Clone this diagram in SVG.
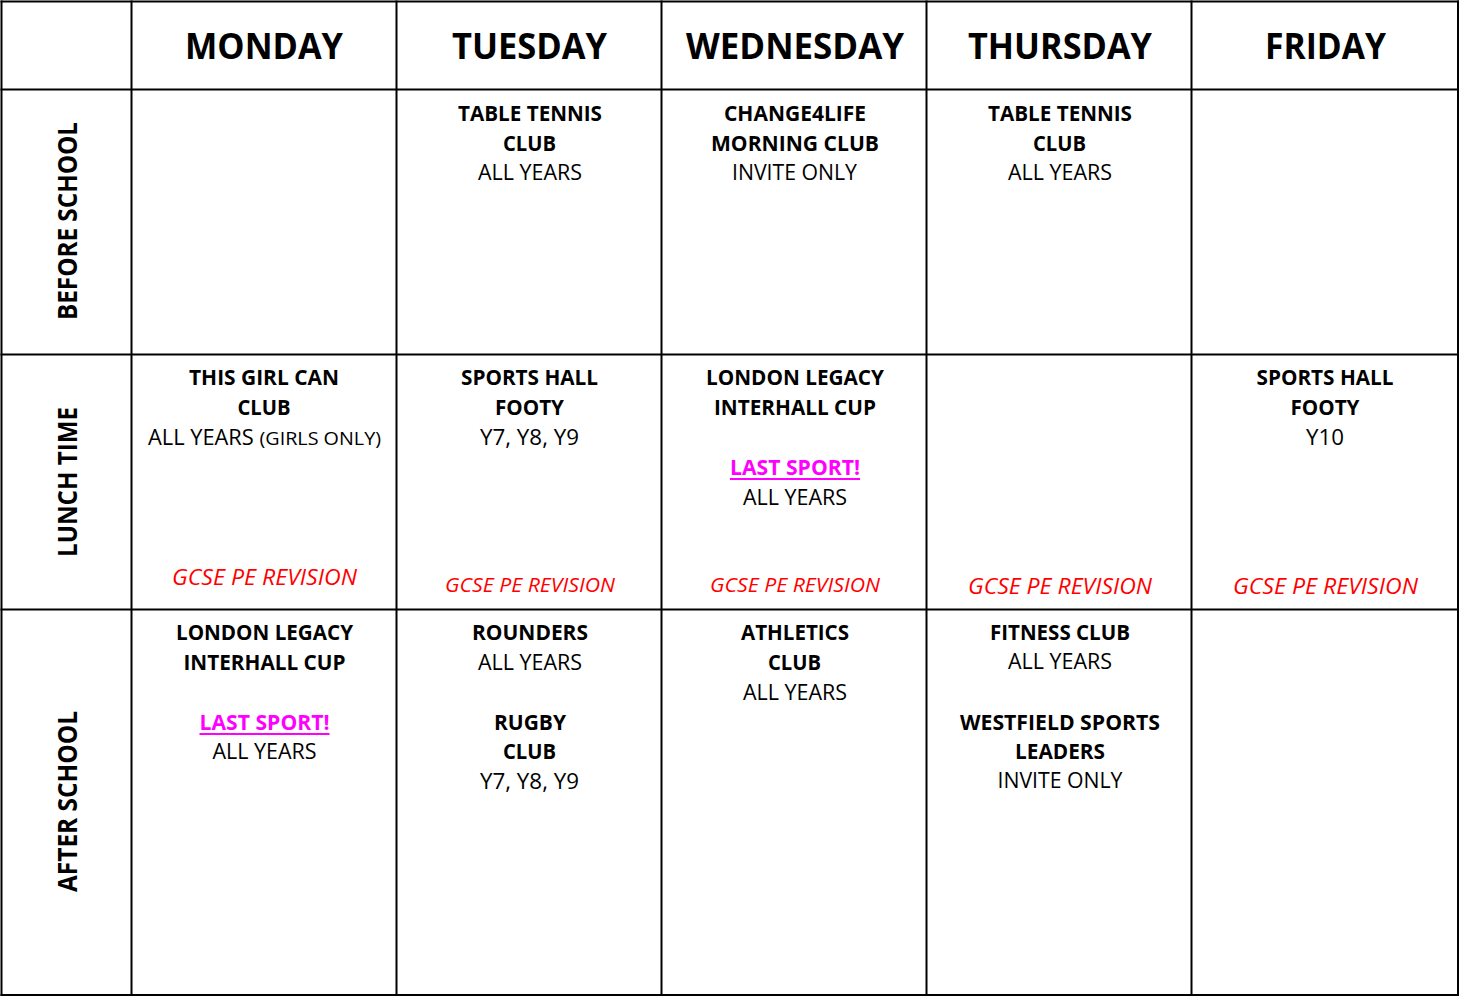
<svg xmlns="http://www.w3.org/2000/svg" width="1461" height="998" viewBox="0 0 1461 998">
<style>
text{font-family:"Open Sans","Liberation Sans",sans-serif;text-anchor:middle;fill:#000}
.h{font-size:36px;font-weight:700}
.b{font-size:21px;font-weight:700}
.r{font-size:21px;font-weight:400}
.row{font-size:26px;font-weight:700}
.g{font-size:21px;font-style:italic;fill:#FF0000}
.g2{font-size:19.5px;font-style:italic;fill:#FF0000}
.m{font-size:21px;font-weight:700;fill:#FF00FF}
.ul{stroke:#FF00FF;stroke-width:2}
.grid line{stroke:#000;stroke-width:2}
</style>
<rect width="1461" height="998" fill="#fff"/>
<g id="grid" class="grid">
<line x1="1.5" y1="0.5" x2="1.5" y2="996"/>
<line x1="131.5" y1="0.5" x2="131.5" y2="996"/>
<line x1="396.5" y1="0.5" x2="396.5" y2="996"/>
<line x1="661.5" y1="0.5" x2="661.5" y2="996"/>
<line x1="926.5" y1="0.5" x2="926.5" y2="996"/>
<line x1="1191.5" y1="0.5" x2="1191.5" y2="996"/>
<line x1="1458" y1="0.5" x2="1458" y2="996"/>
<line x1="0.5" y1="1.5" x2="1459" y2="1.5"/>
<line x1="0.5" y1="89.5" x2="1459" y2="89.5"/>
<line x1="0.5" y1="354.5" x2="1459" y2="354.5"/>
<line x1="0.5" y1="609.5" x2="1459" y2="609.5"/>
<line x1="0.5" y1="995" x2="1459" y2="995"/>
</g>
<g id="headers">
<text class="h" x="264" y="59" textLength="158" lengthAdjust="spacingAndGlyphs">MONDAY</text>
<text class="h" x="529.5" y="59" textLength="155" lengthAdjust="spacingAndGlyphs">TUESDAY</text>
<text class="h" x="795" y="59" textLength="218" lengthAdjust="spacingAndGlyphs">WEDNESDAY</text>
<text class="h" x="1060" y="59" textLength="184" lengthAdjust="spacingAndGlyphs">THURSDAY</text>
<text class="h" x="1325.5" y="59" textLength="121" lengthAdjust="spacingAndGlyphs">FRIDAY</text>
</g>
<g id="row-labels">
<text class="row" transform="translate(77,221) rotate(-90)" textLength="198" lengthAdjust="spacingAndGlyphs">BEFORE SCHOOL</text>
<text class="row" transform="translate(77,482) rotate(-90)" textLength="150" lengthAdjust="spacingAndGlyphs">LUNCH TIME</text>
<text class="row" transform="translate(77,801.5) rotate(-90)" textLength="181" lengthAdjust="spacingAndGlyphs">AFTER SCHOOL</text>
</g>
<g id="tue-before">
<text class="b" x="530" y="121" textLength="144" lengthAdjust="spacingAndGlyphs">TABLE TENNIS</text>
<text class="b" x="529.5" y="150.5" textLength="53" lengthAdjust="spacingAndGlyphs">CLUB</text>
<text class="r" x="530" y="180" textLength="104" lengthAdjust="spacingAndGlyphs">ALL YEARS</text>
</g>
<g id="wed-before">
<text class="b" x="795" y="121" textLength="142" lengthAdjust="spacingAndGlyphs">CHANGE4LIFE</text>
<text class="b" x="795" y="150.5" textLength="168" lengthAdjust="spacingAndGlyphs">MORNING CLUB</text>
<text class="r" x="794.5" y="180" textLength="125" lengthAdjust="spacingAndGlyphs">INVITE ONLY</text>
</g>
<g id="thu-before">
<text class="b" x="1060" y="121" textLength="144" lengthAdjust="spacingAndGlyphs">TABLE TENNIS</text>
<text class="b" x="1059.5" y="150.5" textLength="53" lengthAdjust="spacingAndGlyphs">CLUB</text>
<text class="r" x="1060" y="180" textLength="104" lengthAdjust="spacingAndGlyphs">ALL YEARS</text>
</g>
<g id="mon-lunch">
<text class="b" x="264" y="385" textLength="150" lengthAdjust="spacingAndGlyphs">THIS GIRL CAN</text>
<text class="b" x="264" y="415" textLength="53" lengthAdjust="spacingAndGlyphs">CLUB</text>
<text class="r" x="264.5" y="445" textLength="233" lengthAdjust="spacingAndGlyphs">ALL YEARS <tspan font-size="19">(GIRLS ONLY)</tspan></text>
<text class="g" x="264.5" y="585" textLength="185" lengthAdjust="spacingAndGlyphs">GCSE PE REVISION</text>
</g>
<g id="tue-lunch">
<text class="b" x="529.5" y="385" textLength="137" lengthAdjust="spacingAndGlyphs">SPORTS HALL</text>
<text class="b" x="529.5" y="415" textLength="69" lengthAdjust="spacingAndGlyphs">FOOTY</text>
<text class="r" x="529.5" y="445" textLength="99" lengthAdjust="spacingAndGlyphs">Y7, Y8, Y9</text>
<text class="g2" x="530" y="592" textLength="170" lengthAdjust="spacingAndGlyphs">GCSE PE REVISION</text>
</g>
<g id="wed-lunch">
<text class="b" x="795" y="385" textLength="178" lengthAdjust="spacingAndGlyphs">LONDON LEGACY</text>
<text class="b" x="795" y="415" textLength="162" lengthAdjust="spacingAndGlyphs">INTERHALL CUP</text>
<text class="m" x="795" y="475" textLength="130" lengthAdjust="spacingAndGlyphs">LAST SPORT!</text>
<line class="ul" x1="730" y1="479" x2="860" y2="479"/>
<text class="r" x="795" y="505" textLength="104" lengthAdjust="spacingAndGlyphs">ALL YEARS</text>
<text class="g2" x="795" y="592" textLength="170" lengthAdjust="spacingAndGlyphs">GCSE PE REVISION</text>
</g>
<g id="thu-lunch">
<text class="g" x="1060" y="594" textLength="184" lengthAdjust="spacingAndGlyphs">GCSE PE REVISION</text>
</g>
<g id="fri-lunch">
<text class="b" x="1325" y="385" textLength="137" lengthAdjust="spacingAndGlyphs">SPORTS HALL</text>
<text class="b" x="1325" y="415" textLength="69" lengthAdjust="spacingAndGlyphs">FOOTY</text>
<text class="r" x="1325" y="445" textLength="38" lengthAdjust="spacingAndGlyphs">Y10</text>
<text class="g" x="1325.5" y="594" textLength="185" lengthAdjust="spacingAndGlyphs">GCSE PE REVISION</text>
</g>
<g id="mon-after">
<text class="b" x="264.5" y="640" textLength="177" lengthAdjust="spacingAndGlyphs">LONDON LEGACY</text>
<text class="b" x="264.5" y="670" textLength="162" lengthAdjust="spacingAndGlyphs">INTERHALL CUP</text>
<text class="m" x="264.5" y="730" textLength="130" lengthAdjust="spacingAndGlyphs">LAST SPORT!</text>
<line class="ul" x1="199.5" y1="734" x2="329.5" y2="734"/>
<text class="r" x="264.5" y="759" textLength="104" lengthAdjust="spacingAndGlyphs">ALL YEARS</text>
</g>
<g id="tue-after">
<text class="b" x="530" y="640" textLength="116" lengthAdjust="spacingAndGlyphs">ROUNDERS</text>
<text class="r" x="530" y="670" textLength="104" lengthAdjust="spacingAndGlyphs">ALL YEARS</text>
<text class="b" x="530" y="730" textLength="72" lengthAdjust="spacingAndGlyphs">RUGBY</text>
<text class="b" x="529.5" y="759" textLength="53" lengthAdjust="spacingAndGlyphs">CLUB</text>
<text class="r" x="529.5" y="789" textLength="99" lengthAdjust="spacingAndGlyphs">Y7, Y8, Y9</text>
</g>
<g id="wed-after">
<text class="b" x="795" y="640" textLength="108" lengthAdjust="spacingAndGlyphs">ATHLETICS</text>
<text class="b" x="794.5" y="670" textLength="53" lengthAdjust="spacingAndGlyphs">CLUB</text>
<text class="r" x="795" y="700" textLength="104" lengthAdjust="spacingAndGlyphs">ALL YEARS</text>
</g>
<g id="thu-after">
<text class="b" x="1060" y="640" textLength="140" lengthAdjust="spacingAndGlyphs">FITNESS CLUB</text>
<text class="r" x="1060" y="669" textLength="104" lengthAdjust="spacingAndGlyphs">ALL YEARS</text>
<text class="b" x="1060" y="730" textLength="200" lengthAdjust="spacingAndGlyphs">WESTFIELD SPORTS</text>
<text class="b" x="1060" y="759" textLength="90" lengthAdjust="spacingAndGlyphs">LEADERS</text>
<text class="r" x="1060" y="788" textLength="125" lengthAdjust="spacingAndGlyphs">INVITE ONLY</text>
</g>
</svg>
